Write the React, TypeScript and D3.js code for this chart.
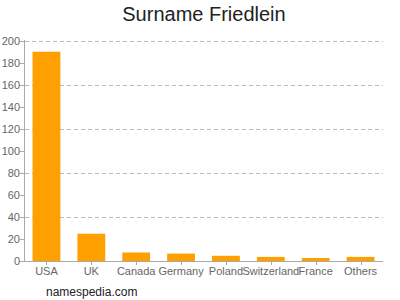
import React from "react";
import * as d3 from "d3";

const categories = ["USA", "UK", "Canada", "Germany", "Poland", "Switzerland", "France", "Others"];
const counts = [190, 25, 8, 7, 5, 4, 3, 4];
const yTicks = [0, 20, 40, 60, 80, 100, 120, 140, 160, 180, 200];
const gridTicks = [40, 80, 120, 160, 200];
const title = "Surname Friedlein";
const watermark = "namespedia.com";

const FONT = "'Liberation Sans', Arial, Helvetica, sans-serif";

export default function App() {
  const x = d3.scaleBand<string>().domain(categories).range([24, 383]).paddingInner(0.38).paddingOuter(0.19);
  const y = d3.scaleLinear().domain([0, 200]).range([261.3, 40.7]);
  const x0 = 24;
  const x1 = 383;
  return (
    <svg width={400} height={300} style={{ position: "absolute", left: 0, top: 0, background: "#fff" }} fontFamily={FONT}>
      <text x={204} y={21} textAnchor="middle" fontSize={20} fill="#222">{title}</text>
      {gridTicks.map((t) => (
        <line key={"g" + t} x1={x0 + 1} x2={x1} y1={Math.round(y(t)) + 0.5} y2={Math.round(y(t)) + 0.5} stroke="#bbb" strokeDasharray="4,3" strokeWidth={1} />
      ))}
      {categories.map((c, i) => (
        <rect key={c} x={x(c)} y={y(counts[i])} width={x.bandwidth()} height={y(0) - y(counts[i])} fill="#ffa000" />
      ))}
      <line x1={x0 + 0.5} x2={x0 + 0.5} y1={40} y2={261.5} stroke="#aaa" />
      <line x1={x0} x2={x1} y1={261.5} y2={261.5} stroke="#aaa" />
      {yTicks.map((t) => (
        <g key={"y" + t}>
          <line x1={x0 - 4} x2={x0} y1={Math.round(y(t)) + 0.5} y2={Math.round(y(t)) + 0.5} stroke="#aaa" />
          <text x={x0 - 4} y={y(t) + 4} textAnchor="end" fontSize={11} fill="#666">{t}</text>
        </g>
      ))}
      {categories.map((c) => (
        <g key={"x" + c}>
          <line x1={Math.round(x(c)! + x.bandwidth() / 2) + 0.5} x2={Math.round(x(c)! + x.bandwidth() / 2) + 0.5} y1={261} y2={265} stroke="#aaa" />
          <text x={x(c)! + x.bandwidth() / 2} y={275} textAnchor="middle" fontSize={11} fill="#666">{c}</text>
        </g>
      ))}
      <text x={46} y={296} fontSize={12} fill="#222">{watermark}</text>
    </svg>
  );
}
